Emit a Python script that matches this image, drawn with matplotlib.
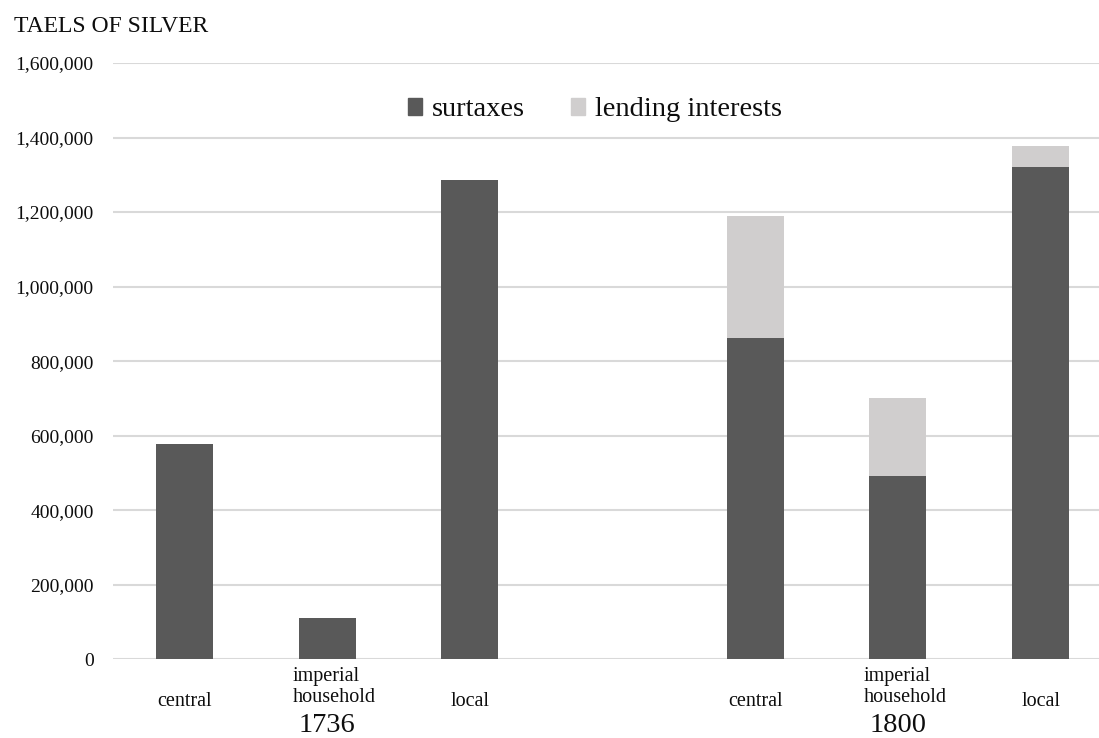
import numpy as np
import matplotlib
matplotlib.use("Agg")
import matplotlib.pyplot as plt
from matplotlib.ticker import FuncFormatter
from matplotlib.transforms import blended_transform_factory
from matplotlib.patches import Patch

plt.rcParams["font.family"] = ["Liberation Serif", "DejaVu Serif"]

# revenue by recipient, taels of silver
years = ["1736", "1800"]
sectors = ["central", "imperial\nhousehold", "local"]
surtaxes_1736 = [578000, 110000, 1286000]
lending_1736 = [0, 0, 0]
surtaxes_1800 = [863000, 491000, 1321000]
lending_1800 = [326000, 209000, 56000]

DARK = "#595959"
LIGHT = "#D0CECE"
GRID = "#D9D9D9"
INK = "#0d0d0d"

fig = plt.figure(figsize=(10.99, 7.38), dpi=100)
ax = fig.add_axes([113 / 1099, 1 - 659.3 / 738, 999 / 1099, (659.3 - 63) / 738])

# two groups of three bars, one empty slot between them
n = len(sectors)
x_groups = [np.arange(n), np.arange(n) + n + 1]
surt = [surtaxes_1736, surtaxes_1800]
lend = [lending_1736, lending_1800]
w = 0.4
for xs, s, l in zip(x_groups, surt, lend):
    ax.bar(xs, s, width=w, color=DARK, zorder=3)
    ax.bar(xs, l, width=w, bottom=s, color=LIGHT, zorder=3)

ax.set_xlim(-0.5, 2 * n + 0.5)
ax.set_ylim(0, 1600000)
ax.set_yticks(np.arange(0, 1600001, 200000))
ax.yaxis.set_major_formatter(FuncFormatter(lambda v, p: f"{int(v):,}"))
ax.tick_params(axis="y", length=0, pad=14, labelsize=14, labelcolor=INK)
ax.set_xticks([])
ax.grid(axis="y", color=GRID, linewidth=1.5, zorder=0)
for sp in ax.spines.values():
    sp.set_visible(False)

# category and year labels under the axis
tr = blended_transform_factory(ax.transData, fig.transFigure)
for xs, year in zip(x_groups, years):
    for xi, name in zip(xs, sectors):
        if "\n" in name:
            ax.text(xi + 0.05, 1 - 687 / 738, name, transform=tr, ha="center",
                    va="center", multialignment="left", fontsize=14.5,
                    linespacing=1.1, color=INK)
        else:
            ax.text(xi, 1 - 701 / 738, name, transform=tr, ha="center",
                    va="center", fontsize=14.5, color=INK)
    ax.text(xs[1], 1 - 725.5 / 738, year, transform=tr, ha="center",
            va="center", fontsize=20.5, color=INK)

fig.text(14 / 1099, 1 - 26 / 738, "TAELS OF SILVER", ha="left", va="center",
         fontsize=17, color=INK)

handles = [Patch(color=DARK, label="surtaxes"),
           Patch(color=LIGHT, label="lending interests")]
fig.legend(handles=handles, loc="center", bbox_to_anchor=(595 / 1099, 1 - 110 / 738),
           ncol=2, frameon=False, fontsize=20.5, handlelength=0.5,
           handleheight=0.5, handletextpad=0.35, columnspacing=1.6,
           labelcolor=INK)

fig.savefig("out.png", dpi=100, facecolor="white")
